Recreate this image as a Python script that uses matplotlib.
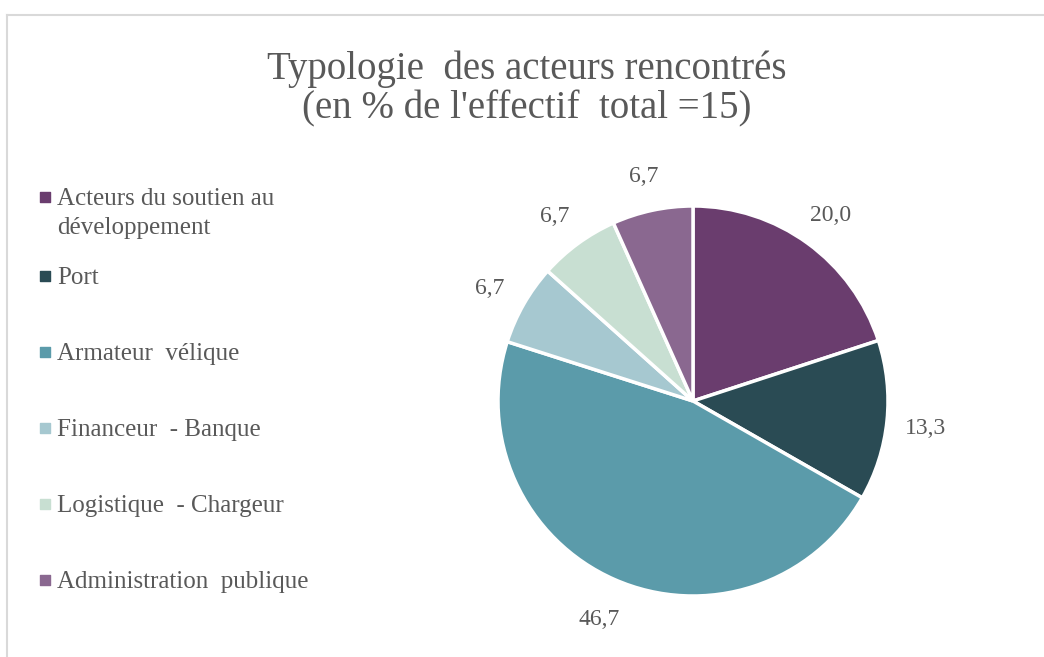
import matplotlib
matplotlib.use("Agg")
import matplotlib.pyplot as plt
from matplotlib.lines import Line2D
import numpy as np

# ---- Data ----
categories = [
    "Acteurs du soutien au\ndéveloppement",
    "Port",
    "Armateur  vélique",
    "Financeur  - Banque",
    "Logistique  - Chargeur",
    "Administration  publique",
]
shares = [20.0, 13.3, 46.7, 6.7, 6.7, 6.7]
value_labels = ["20,0", "13,3", "46,7", "6,7", "6,7", "6,7"]
colors = ["#6a3d6e", "#2a4b54", "#5b9baa", "#a6c8d0", "#c8dfd2", "#8a6890"]

title = "Typologie  des acteurs rencontrés\n(en % de l'effectif  total =15)"

TEXT = "#595959"
plt.rcParams["font.family"] = ["Liberation Serif", "DejaVu Serif"]

W, H = 1044, 657
fig = plt.figure(figsize=(W / 100, H / 100), dpi=100)
ax = fig.add_axes([0, 0, 1, 1])

# chart border (top + left visible)
ax.add_line(Line2D([7, W + 5], [15, 15], color="#d9d9d9", lw=1.5))
ax.add_line(Line2D([7, 7], [15, H + 5], color="#d9d9d9", lw=1.5))

# pie (y axis inverted, so counterclock=True draws clockwise on screen)
cx, cy, r = 693, 401, 195
wedges, _ = ax.pie(shares, colors=colors, startangle=-90, counterclock=True,
                   center=(cx, cy), radius=r, frame=True,
                   wedgeprops=dict(edgecolor="white", linewidth=2.5))
ax.set_xlim(0, W)
ax.set_ylim(H, 0)
ax.set_aspect("equal")
ax.axis("off")

for w, lab in zip(wedges, value_labels):
    mid = np.deg2rad((w.theta1 + w.theta2) / 2)
    lx = cx + 1.2 * r * np.cos(mid)
    ly = cy + 1.2 * r * np.sin(mid) + 4
    ax.text(lx, ly, lab, ha="center", va="center", fontsize=17, color=TEXT)

# title
ax.text(527, 89, title, ha="center", va="center", fontsize=28, color=TEXT,
        linespacing=1.1)

# legend
legend_y = [197, 276, 352, 428, 504, 580]
for y, c, name in zip(legend_y, colors, categories):
    ax.scatter([45], [y], marker="s", s=45, color=c)
    ax.text(57, y - 9, name, ha="left", va="top", fontsize=18, color=TEXT,
            linespacing=1.42)

fig.savefig("out.png", dpi=100)
